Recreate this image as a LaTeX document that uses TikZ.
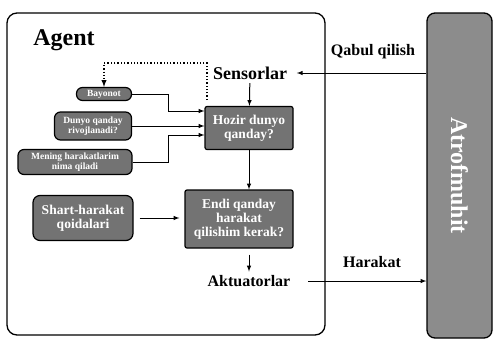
\documentclass[tikz,border=0pt]{standalone}
\usepackage{fontspec}
\setmainfont{Liberation Serif}
\usetikzlibrary{arrows}

\tikzset{
    darkbox/.style={draw,line width=1.2pt,fill=black!55,text=white,align=center,
        inner sep=1pt,font=\bfseries\fontsize{13.5}{14}\selectfont},
    pill/.style={darkbox,rounded corners=6pt,font=\bfseries\fontsize{9.5}{10}\selectfont},
    lbl/.style={font=\bfseries\fontsize{16}{16}\selectfont},
}

\begin{document}
\begin{tikzpicture}[x=1pt,y=-1pt,>=latex,line width=1pt]
    \useasboundingbox (0,0) rectangle (494,341);

    \node[draw,line width=1.3pt,rounded corners=10pt,minimum width=318pt,minimum height=322pt] (agent) at (166,174) {};
    \node[draw,line width=1.3pt,rounded corners=8pt,fill=black!45,minimum width=65pt,minimum height=325pt] (env) at (459.5,175.5) {};
    \node[rotate=-90,text=white,font=\bfseries\fontsize{24}{24}\selectfont] (envlbl) at (env) {Atrofmuhit};

    \node[font=\bfseries\fontsize{24}{24}\selectfont] (agentlbl) at (64,40) {Agent};

    \begin{scope}[every node/.style={lbl}]
        \node (sens) at (250,73) {\fontsize{18}{18}\selectfont Sensorlar};
        \node (akt) at (249,281) {Aktuatorlar};
        \node (qabul) at (373,52) {Qabul qilish};
        \node (harakat) at (372,262) {Harakat};
    \end{scope}

    \node[pill,minimum width=55pt,minimum height=13pt] (bay) at (104,94) {Bayonot};
    \node[pill,minimum width=77pt,minimum height=28pt] (dunyo) at (93,126) {Dunyo qanday\\rivojlanadi?};
    \node[pill,minimum width=114pt,minimum height=25pt] (mening) at (75,162) {Mening harakatlarim\\nima qiladi};
    \node[darkbox,rounded corners=7pt,minimum width=100pt,minimum height=45pt] (shart) at (83,218) {Shart-harakat\\qoidalari};
    \node[darkbox,rounded corners=2pt,minimum width=88pt,minimum height=43pt] (hozir) at (249,128) {Hozir dunyo\\qanday?};
    \node[darkbox,rounded corners=2pt,minimum width=108pt,minimum height=58pt] (endi) at (239,219) {Endi qanday\\harakat\\qilishim kerak?};

    \coordinate (in1) at (hozir.west |- 0,111);
    \coordinate (in3) at (hozir.west |- 0,135);
    \coordinate (dtop) at (207,63);
    \coordinate (dbot) at (207,100);

    \path [->] (env.west |- sens) edge[shorten >=6pt] (sens.east);
    \path [->] (sens) edge (hozir);
    \path [->] (dunyo.east) edge (hozir.west |- dunyo.east);
    \path [->] (hozir) edge (endi.north -| hozir);
    \path [->] (shart.east) edge[shorten <=6pt,shorten >=5pt] (endi.west |- shart.east);
    \path [->] (endi.south -| hozir) edge[shorten <=6pt] (akt.north -| hozir);
    \path [->] (akt.east) edge[shorten <=14pt] (env.west |- akt.east);

    \draw[->] (bay.east) -- ++(36,0) |- (in1);
    \draw[->] (mening.east) -- ++(36,0) |- (in3);
    \draw[dotted,line width=1.3pt,->] (dbot) -- (dtop) -| (bay.north);
\end{tikzpicture}
\end{document}
